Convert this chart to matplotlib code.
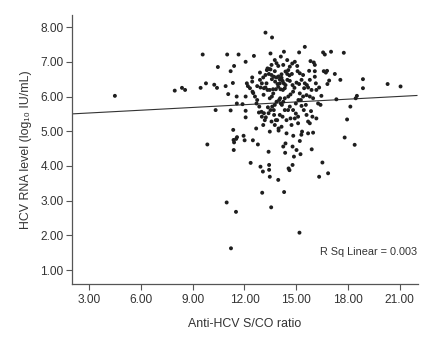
import matplotlib
matplotlib.use("Agg")
import matplotlib.pyplot as plt
import numpy as np

plt.rcParams['font.family'] = ['Liberation Sans', 'DejaVu Sans']

# Anti-HCV S/CO ratio (x) and HCV RNA level (y)
x_vals = [
    4.49, 7.96, 8.38, 8.56, 9.46, 9.58, 9.77, 9.85, 10.25, 10.41, 10.46, 10.33,
    10.91, 11.00, 11.06, 11.20, 11.20, 11.33, 11.40, 11.66, 11.55, 11.56, 11.35,
    11.37, 11.40, 11.52, 11.57, 11.38, 10.97, 11.51, 11.22, 11.89, 11.95, 12.01,
    12.07, 12.07, 12.07, 12.07, 12.14, 12.20, 12.36, 12.45, 12.49, 12.55, 12.45,
    12.51, 12.68, 12.74, 12.74, 12.78, 12.84, 12.90, 12.90, 12.93, 12.93, 13.03,
    13.01, 13.07, 13.11, 13.18, 13.22, 13.28, 13.30, 13.36, 13.40, 13.43, 13.43,
    13.47, 13.51, 13.55, 13.60, 13.59, 13.66, 13.70, 13.72, 13.76, 13.82, 13.86,
    13.96, 13.98, 13.98, 14.05, 14.07, 14.11, 14.17, 14.21, 14.25, 14.29, 14.30,
    14.36, 14.38, 14.44, 14.48, 14.49, 14.53, 14.56, 14.61, 14.67, 14.73, 14.79,
    14.79, 14.83, 14.87, 14.92, 14.98, 15.02, 15.06, 15.11, 15.17, 15.19, 15.21,
    15.25, 15.27, 15.30, 15.34, 15.40, 15.46, 15.50, 15.56, 15.62, 15.69, 15.75,
    15.83, 15.86, 15.90, 15.94, 15.98, 16.02, 16.08, 16.08, 16.14, 16.17, 16.27,
    16.33, 16.41, 16.46, 16.52, 16.56, 16.60, 16.66, 16.72, 16.79, 16.81, 16.85,
    16.91, 17.02, 17.24, 17.33, 17.56, 17.76, 17.81, 17.95, 18.14, 18.39, 18.45,
    18.52, 18.87, 18.87, 20.30, 21.05,
    13.34, 13.44, 13.51, 13.42, 13.57, 13.71, 13.86, 13.98, 14.05, 14.15, 14.21,
    14.28, 14.38, 14.34, 14.23, 14.09, 13.96, 13.82, 13.67, 13.59, 13.47, 13.34,
    13.22, 13.13, 13.01, 13.09, 13.22, 13.78, 13.92, 14.15, 14.38, 14.48, 14.61,
    14.75, 14.63, 14.79, 14.90, 15.02, 15.17, 15.31, 15.21, 15.08, 14.82, 14.67,
    14.54, 14.34, 14.25, 14.11, 14.01, 13.86, 13.76, 13.61, 13.51, 13.40, 13.24,
    13.13, 12.99, 12.86, 12.70, 12.61, 12.47, 12.32, 13.09, 13.57, 13.76, 14.05,
    14.34, 14.63, 14.82, 14.98, 15.13, 15.31, 15.44, 15.60, 15.69, 15.79, 15.11,
    14.92, 14.44, 14.15, 13.90, 13.47, 15.21, 15.40, 15.60, 15.79, 15.98, 15.89,
    15.69, 15.50, 16.08, 16.17, 16.33, 15.79, 14.77, 14.63, 14.54, 14.25, 13.96,
    13.76, 13.57, 13.47,
]
y_vals = [
    6.02, 6.17, 6.25, 6.19, 6.25, 7.21, 6.38, 4.62, 6.34, 6.25, 6.85, 5.61,
    6.30, 7.21, 6.07, 6.73, 5.60, 6.39, 6.88, 7.21, 6.00, 5.80, 5.04,
    4.75, 4.68, 4.78, 4.83, 4.46, 2.95, 2.68, 1.63, 5.78, 4.87, 4.74,
    7.00, 6.00, 5.59, 5.40, 6.38, 6.30, 4.09, 6.55, 4.74, 7.17, 6.43,
    6.10, 5.08, 5.90, 6.30, 4.62, 5.54, 6.69, 6.48, 6.26, 3.98, 3.23,
    5.42, 3.84, 6.05, 5.32, 7.84, 6.38, 6.76, 5.69, 4.41, 4.03, 3.89,
    3.69, 7.24, 2.81, 7.70, 6.50, 6.21, 5.61, 5.47, 6.73, 5.32, 6.96,
    3.60, 5.08, 5.02, 6.38, 5.95, 7.15, 5.76, 5.42, 4.56, 7.29, 3.25,
    4.38, 4.65, 4.94, 7.05, 6.48, 5.61, 3.93, 3.88, 5.37, 5.18, 4.56,
    4.03, 4.87, 4.27, 7.00, 5.51, 4.46, 6.88, 5.42, 7.27, 2.08, 4.72,
    4.34, 5.90, 4.90, 4.99, 6.62, 6.24, 7.43, 5.76, 6.33, 4.94, 6.74,
    7.02, 5.58, 4.48, 5.42, 4.96, 6.98, 6.91, 6.73, 6.38, 5.37, 5.80,
    3.69, 5.76, 6.02, 4.10, 7.27, 6.73, 7.21, 6.69, 6.74, 6.36, 3.79,
    6.46, 7.29, 6.65, 5.92, 6.48, 7.26, 4.82, 5.34, 5.71, 4.61, 5.95,
    6.02, 6.50, 6.24, 6.36, 6.29,
    6.81, 6.79, 6.78, 6.65, 6.62, 6.57, 6.55, 6.58, 6.49, 6.54, 6.45,
    6.38, 6.33, 6.24, 6.19, 6.21, 6.28, 6.21, 6.09, 6.00, 5.95, 6.19,
    6.26, 6.24, 6.38, 6.55, 6.62, 6.43, 6.36, 6.64, 6.72, 6.65, 6.61,
    6.65, 6.45, 6.33, 6.25, 6.40, 6.36, 6.48, 6.67, 6.73, 6.14, 6.06,
    6.00, 5.95, 5.85, 5.80, 5.90, 5.85, 5.76, 5.71, 5.61, 5.52, 5.40,
    5.52, 5.56, 5.71, 5.80, 6.00, 6.14, 6.24, 5.18, 5.28, 5.18, 5.47,
    5.61, 5.71, 5.61, 5.80, 5.90, 5.73, 5.61, 5.47, 5.28, 5.23, 5.23,
    5.37, 5.32, 5.13, 5.32, 4.99, 6.09, 6.00, 6.04, 6.00, 5.95, 6.19,
    6.26, 6.38, 6.57, 6.19, 6.26, 6.48, 6.95, 6.86, 6.76, 6.91, 6.88,
    7.05, 6.91, 6.19,
]

# Fit line endpoints
line_x = [2.0, 22.0]
line_y = [5.50, 6.03]

x_ticks = [3, 6, 9, 12, 15, 18, 21]
y_ticks = [1, 2, 3, 4, 5, 6, 7, 8]

fig = plt.figure(figsize=(4.44, 3.39), dpi=100)
ax = fig.add_axes([0.162, 0.162, 0.779, 0.794])

ax.scatter(x_vals, y_vals, s=8, color='#1e1e1e', edgecolors='none', zorder=3)
ax.plot(line_x, line_y, color='#333333', linewidth=0.8, zorder=2)

ax.set_xlim(2.0, 22.05)
ax.set_ylim(0.6, 8.35)
ax.set_xticks(x_ticks)
ax.set_xticklabels([f"{v:.2f}" for v in x_ticks])
ax.set_yticks(y_ticks)
ax.set_yticklabels([f"{v:.2f}" for v in y_ticks])

for side in ['top', 'right']:
    ax.spines[side].set_visible(False)
for side in ['left', 'bottom']:
    ax.spines[side].set_color('#555555')
    ax.spines[side].set_linewidth(0.9)

ax.tick_params(axis='both', colors='#555555', labelcolor='#333333',
               labelsize=8.6, length=4, width=0.8, direction='out')
ax.tick_params(axis='x', pad=3)
ax.tick_params(axis='y', pad=2)

ax.set_xlabel('Anti-HCV S/CO ratio', fontsize=8.9, color='#333333', labelpad=9)
ax.set_ylabel('HCV RNA level (log\u2081\u2080 IU/mL)', fontsize=8.9, color='#333333', labelpad=6)

ax.text(0.997, 0.118, 'R Sq Linear = 0.003', transform=ax.transAxes,
        ha='right', va='center', fontsize=7.8, color='#333333')

fig.savefig('out.png', dpi=100)
